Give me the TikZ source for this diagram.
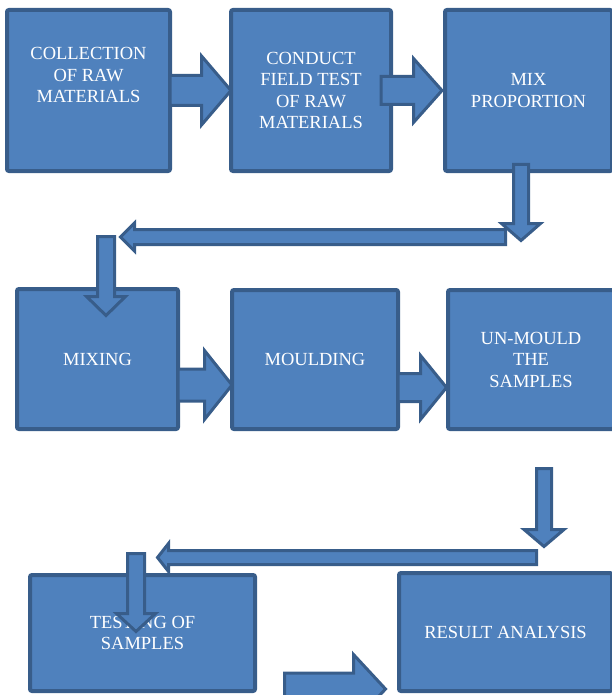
\documentclass[tikz,border=0pt]{standalone}
\usepackage{fontspec}
\setmainfont{Liberation Serif}
\usetikzlibrary{calc}

\definecolor{boxfill}{HTML}{4F81BD}
\definecolor{boxline}{HTML}{385D8A}

\tikzset{
  stage/.style={rectangle, rounded corners=2pt, draw=boxline, line width=4pt, fill=boxfill,
    text=white, align=center, outer sep=0pt, inner sep=2pt, font=\fontsize{18.5}{21.5}\selectfont},
  blk/.style={draw=boxline, fill=boxfill, line width=3pt, line join=miter},
  % block arrows: #1 half shaft, #2 half head, #3 head length
  rblk/.style n args={3}{blk, to path={let \p1=(\tikztostart), \p2=(\tikztotarget) in
    (\x1,\y1+#1) -- (\x2-#3,\y1+#1) -- (\x2-#3,\y1+#2) -- (\x2,\y1) -- (\x2-#3,\y1-#2)
    -- (\x2-#3,\y1-#1) -- (\x1,\y1-#1) -- cycle}},
  lblk/.style n args={3}{blk, to path={let \p1=(\tikztostart), \p2=(\tikztotarget) in
    (\x1,\y1+#1) -- (\x2+#3,\y1+#1) -- (\x2+#3,\y1+#2) -- (\x2,\y1) -- (\x2+#3,\y1-#2)
    -- (\x2+#3,\y1-#1) -- (\x1,\y1-#1) -- cycle}},
  dblk/.style n args={3}{blk, to path={let \p1=(\tikztostart), \p2=(\tikztotarget) in
    (\x1+#1,\y1) -- (\x1+#1,\y2+#3) -- (\x1+#2,\y2+#3) -- (\x1,\y2) -- (\x1-#2,\y2+#3)
    -- (\x1-#1,\y2+#3) -- (\x1-#1,\y1) -- cycle}},
}

\begin{document}
\begin{tikzpicture}[x=1pt, y=-1pt]

    \useasboundingbox (0,0) rectangle (612,695);
    \clip (0,0) rectangle (612,695);

    % Stages
    \node (collect) [stage, minimum width=163pt, minimum height=161pt] at (88.5,90.5)
        {COLLECTION\\OF RAW\\MATERIALS\\[9pt]\mbox{}};
    \node (field) [stage, minimum width=160pt, minimum height=161pt] at (311,90.5)
        {CONDUCT\\FIELD TEST\\OF RAW\\MATERIALS};
    \node (mixprop) [stage, minimum width=167pt, minimum height=161pt] at (528.5,90.5)
        {MIX\\PROPORTION};
    \node (mixing) [stage, minimum width=161pt, minimum height=140pt] at (97.5,359) {MIXING};
    \node (mould) [stage, minimum width=166pt, minimum height=139pt] at (315,359.5) {MOULDING};
    \node (unmould) [stage, minimum width=166pt, minimum height=139pt] at (531,359.5)
        {UN-MOULD\\THE\\SAMPLES};
    \node (testing) [stage, minimum width=225pt, minimum height=116pt] at (142.5,633)
        {TESTING OF\\SAMPLES};
    \node (result) [stage, minimum width=213pt, minimum height=118pt] at (505.5,632)
        {RESULT ANALYSIS};

    % Free ends of the bent links
    \coordinate (mixpOut) at (521,164.5);
    \coordinate (mixpDown) at (521,240.5);
    \coordinate (backOne) at (505.5,237);
    \coordinate (backOneEnd) at (120.5,237);
    \coordinate (mixIn) at (106,236.5);
    \coordinate (mixInEnd) at (106,315.5);
    \coordinate (unmOut) at (544,468.5);
    \coordinate (unmDown) at (544,546.5);
    \coordinate (backTwo) at (536.5,557.5);
    \coordinate (backTwoEnd) at (157.5,557.5);
    \coordinate (testIn) at (136,553.5);
    \coordinate (testInEnd) at (136,631.5);
    \coordinate (testOut) at (284.5,689);

    % Block arrows
    \draw [rblk={15}{34.5}{29.5}] (collect.east) to (field.west);
    \draw [rblk={14}{32}{28.5}] ([xshift=-10pt]field.east) to ([xshift=-3pt]mixprop.west);
    \draw [dblk={7.5}{19.5}{17}] (mixpOut) to (mixpDown);
    \draw [lblk={7.5}{14}{14}] (backOne) to (backOneEnd);
    \draw [dblk={8.5}{19.5}{19}] (mixIn) to (mixInEnd);
    \draw [rblk={16}{34.5}{27.5}] ([yshift=-26pt]mixing.east) to ([yshift=-26pt]mould.west);
    \draw [rblk={14}{32}{26}] ([yshift=-28pt]mould.east) to ([yshift=-28pt,xshift=-1.5pt]unmould.west);
    \draw [dblk={7.5}{20}{17}] (unmOut) to (unmDown);
    \draw [lblk={7}{14}{11}] (backTwo) to (backTwoEnd);
    \draw [dblk={8.5}{19.5}{18}] (testIn) to (testInEnd);
    \draw [rblk={16}{34.5}{32}] (testOut) to ([xshift=-13.5pt]result.west |- testOut);

\end{tikzpicture}
\end{document}
